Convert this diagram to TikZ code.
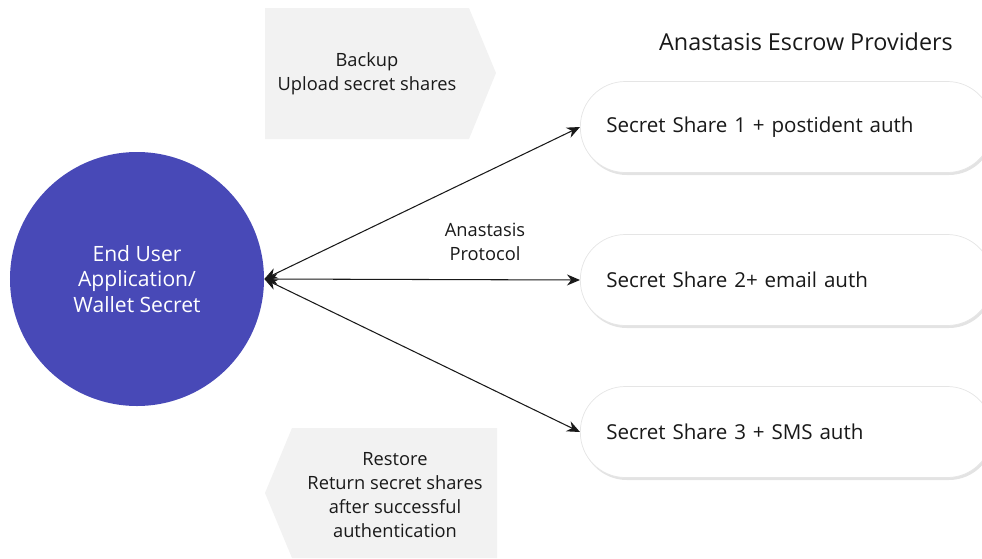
\documentclass[tikz,border=0pt]{standalone}
\usepackage{fontspec}
\setmainfont{Open Sans}
\usetikzlibrary{shadows,arrows.meta}
\definecolor{userblue}{RGB}{72,73,183}
\definecolor{panelgray}{RGB}{242,242,242}
\definecolor{ink}{RGB}{25,25,25}
\begin{document}
\begin{tikzpicture}[x=0.2mm, y=-0.2mm, >={Stealth[length=2.6mm, width=2.2mm]},
  user/.style = {circle, fill=userblue, text=white, minimum size=50.8mm, align=center, font=\fontsize{12}{14.5}\selectfont},
  provider/.style = {draw=gray!20, fill=white, rounded corners=9mm, minimum height=18.2mm, text width=72mm, inner xsep=5.2mm, align=left, anchor=west, text=ink, font=\fontsize{11.7}{14}\selectfont, drop shadow={opacity=0.22, shadow xshift=0.3mm, shadow yshift=-0.5mm}},
  label/.style = {align=center, text=ink, font=\fontsize{10.4}{13.6}\selectfont},
  link/.style = {<->, line width=0.6pt, ink}]
\useasboundingbox (0,0) rectangle (982,559);
\clip (0,0) rectangle (982,559);
% backup and restore panels
\fill[panelgray] (265,8) -- (469,8) -- (496,73) -- (469,139) -- (265,139) -- cycle;
\fill[panelgray] (292,428) -- (497,428) -- (497,558) -- (292,558) -- (265,493) -- cycle;
\node[label] (backup) at (367,74) {Backup\\Upload secret shares};
\node[label] (restore) at (395,495) {Restore\\Return secret shares\\after successful\\authentication};
% user and providers
\node[user] (user) at (137,279) {End User\\Application/\\Wallet Secret};
\node[text=ink, font=\fontsize{13.3}{16}\selectfont] (title) at (806,42) {Anastasis Escrow Providers};
\node[provider] (p1) at (580,127) {Secret Share 1 + postident auth};
\node[provider] (p2) at (580,280) {Secret Share 2+ email auth};
\node[provider] (p3) at (580,432) {Secret Share 3 + SMS auth};
\node[label] (proto) at (485,242) {Anastasis\\Protocol};
% connections
\draw[link] (user.east) -- (p1.west);
\draw[link] (user.east) -- (p2.west);
\draw[link] (user.east) -- (p3.west);
\end{tikzpicture}
\end{document}
